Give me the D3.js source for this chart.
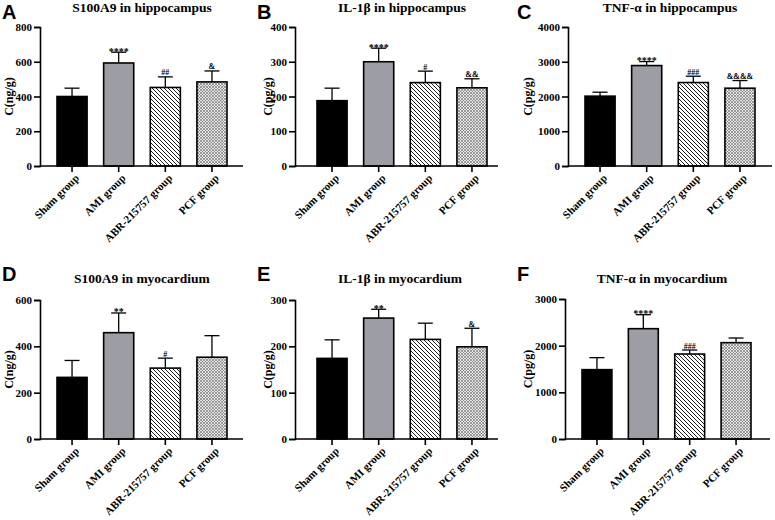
<!DOCTYPE html>
<html>
<head>
<meta charset="UTF-8">
<title>Inflammatory factors</title>
<style>
  body { margin: 0; background: #fff; }
  svg { display: block; }
  .tick text, .ylab, .title, .xlab, .mark { font-family: "Liberation Serif", "Times New Roman", serif; font-weight: bold; fill: #000; }
  .letter { font-family: "Liberation Sans", Arial, sans-serif; font-weight: bold; font-size: 20px; }
</style>
</head>
<body>
<svg width="775" height="520"></svg>
<script src="https://d3js.org/d3.v7.min.js"></script>
<script>
// groups on the x axis
const groups = ["Sham group", "AMI group", "ABR-215757 group", "PCF group"];

// A: S100A9 in hippocampus
const s100HipMean = [400, 593, 452, 484];
const s100HipErr  = [48, 62, 61, 63];
const s100HipMark = ["", "****", "##", "&"];
const s100HipTicks = [0, 200, 400, 600, 800];

// B: IL-1β in hippocampus
const il1HipMean = [188, 300, 240, 225];
const il1HipErr  = [36, 39, 33, 26];
const il1HipMark = ["", "****", "#", "&&"];
const il1HipTicks = [0, 100, 200, 300, 400];

// C: TNF-α in hippocampus
const tnfHipMean = [2010, 2890, 2402, 2239];
const tnfHipErr  = [114, 115, 182, 220];
const tnfHipMark = ["", "****", "###", "&&&&"];
const tnfHipTicks = [0, 1000, 2000, 3000, 4000];

// D: S100A9 in myocardium
const s100MyoMean = [266, 459, 306, 353];
const s100MyoErr  = [73, 85, 43, 93];
const s100MyoMark = ["", "**", "#", ""];
const s100MyoTicks = [0, 200, 400, 600];

// E: IL-1β in myocardium
const il1MyoMean = [174, 261, 215, 199];
const il1MyoErr  = [40, 19, 35, 40];
const il1MyoMark = ["", "**", "", "&"];
const il1MyoTicks = [0, 100, 200, 300];

// F: TNF-α in myocardium
const tnfMyoMean = [1486, 2364, 1821, 2064];
const tnfMyoErr  = [257, 300, 86, 100];
const tnfMyoMark = ["", "****", "###", ""];
const tnfMyoTicks = [0, 1000, 2000, 3000];

const svg = d3.select("svg");

// patterns for the two treated groups
const defs = svg.append("defs");
const hatch = defs.append("pattern").attr("id", "hatch")
  .attr("patternUnits", "userSpaceOnUse").attr("width", 4).attr("height", 4);
hatch.append("rect").attr("width", 4).attr("height", 4).attr("fill", "#fff");
hatch.append("path").attr("d", "M-1,-1L5,5M-1,3L1,5M3,-1L5,1")
  .attr("stroke", "#222").attr("stroke-width", 1);

const dots = defs.append("pattern").attr("id", "dots")
  .attr("patternUnits", "userSpaceOnUse").attr("width", 3).attr("height", 3);
dots.append("rect").attr("width", 3).attr("height", 3).attr("fill", "#e6e6e6");
dots.append("path").attr("d", "M0,0L3,3M3,0L0,3")
  .attr("stroke", "#7a7a7a").attr("stroke-width", 0.7);

const fills = ["#000", "#9d9da5", "url(#hatch)", "url(#dots)"];

// panel layout (positions only; values come from the arrays above)
const panels = [
  { letter: "A", title: "S100A9 in hippocampus", ylab: "C(ng/g)", mean: s100HipMean, err: s100HipErr, mark: s100HipMark, ticks: s100HipTicks,
    ax0: 40, ax1: 243, top: 27, base: 166, b0: 57, b1: 227, lx: 2, ly: 19, tx: 142, ty: 12, yx: 9 },
  { letter: "B", title: "IL-1β in hippocampus", ylab: "C(pg/g)", mean: il1HipMean, err: il1HipErr, mark: il1HipMark, ticks: il1HipTicks,
    ax0: 295, ax1: 498, top: 27, base: 166, b0: 317, b1: 487, lx: 257, ly: 19, tx: 402, ty: 12, yx: 268 },
  { letter: "C", title: "TNF-α in hippocampus", ylab: "C(pg/g)", mean: tnfHipMean, err: tnfHipErr, mark: tnfHipMark, ticks: tnfHipTicks,
    ax0: 568, ax1: 772, top: 27, base: 166, b0: 585, b1: 755, lx: 517, ly: 19, tx: 670, ty: 12, yx: 528 },
  { letter: "D", title: "S100A9 in myocardium", ylab: "C(ng/g)", mean: s100MyoMean, err: s100MyoErr, mark: s100MyoMark, ticks: s100MyoTicks,
    ax0: 40, ax1: 243, top: 300, base: 439, b0: 57, b1: 227, lx: 2, ly: 281, tx: 142, ty: 283, yx: 9 },
  { letter: "E", title: "IL-1β in myocardium", ylab: "C(pg/g)", mean: il1MyoMean, err: il1MyoErr, mark: il1MyoMark, ticks: il1MyoTicks,
    ax0: 295, ax1: 498, top: 300, base: 439, b0: 317, b1: 487, lx: 257, ly: 281, tx: 400, ty: 283, yx: 268 },
  { letter: "F", title: "TNF-α in myocardium", ylab: "C(pg/g)", mean: tnfMyoMean, err: tnfMyoErr, mark: tnfMyoMark, ticks: tnfMyoTicks,
    ax0: 565, ax1: 770, top: 299, base: 439, b0: 582, b1: 751, lx: 517, ly: 281, tx: 662, ty: 283, yx: 528 }
];

panels.forEach(p => {
  const g = svg.append("g");
  const rows = groups.map((name, i) => ({ name, mean: p.mean[i], err: p.err[i], mark: p.mark[i], fill: fills[i] }));

  const y = d3.scaleLinear()
    .domain([0, p.ticks[p.ticks.length - 1]])
    .range([p.base, p.top]);
  const x = d3.scaleBand()
    .domain(groups)
    .range([p.b0, p.b1])
    .paddingInner(0.355)
    .paddingOuter(0);
  const cx = d => x(d) + x.bandwidth() / 2;

  // panel letter and title
  g.append("text").attr("class", "letter").attr("x", p.lx).attr("y", p.ly).text(p.letter);
  g.append("text").attr("class", "title").attr("x", p.tx).attr("y", p.ty)
    .attr("text-anchor", "middle").style("font-size", "13.5px").text(p.title);

  // y axis
  const yAxis = g.append("g")
    .attr("transform", `translate(${p.ax0},0)`)
    .call(d3.axisLeft(y).tickValues(p.ticks).tickFormat(d3.format("d")).tickSize(6).tickPadding(2));
  yAxis.select(".domain").attr("stroke-width", 1.6);
  yAxis.selectAll(".tick line").attr("stroke-width", 1.6);
  yAxis.selectAll(".tick text").style("font-size", "11px");

  g.append("text").attr("class", "ylab")
    .attr("transform", `translate(${p.yx},${(p.top + p.base) / 2}) rotate(-90)`)
    .attr("text-anchor", "middle").attr("dy", "0.35em")
    .style("font-size", "12px").text(p.ylab);

  // error bars (upper only)
  const eb = g.append("g").selectAll("g").data(rows).join("g");
  eb.append("line")
    .attr("x1", d => cx(d.name)).attr("x2", d => cx(d.name))
    .attr("y1", d => y(d.mean)).attr("y2", d => y(d.mean + d.err))
    .attr("stroke", "#000").attr("stroke-width", 1.3);
  eb.append("line")
    .attr("x1", d => cx(d.name) - 7.5).attr("x2", d => cx(d.name) + 7.5)
    .attr("y1", d => y(d.mean + d.err)).attr("y2", d => y(d.mean + d.err))
    .attr("stroke", "#000").attr("stroke-width", 1.3);

  // bars
  g.append("g").selectAll("rect").data(rows).join("rect")
    .attr("x", d => x(d.name))
    .attr("y", d => y(d.mean))
    .attr("width", x.bandwidth())
    .attr("height", d => y(0) - y(d.mean))
    .attr("fill", d => d.fill)
    .attr("stroke", "#000")
    .attr("stroke-width", 1.6);

  // significance marks
  g.append("g").selectAll("text").data(rows.filter(d => d.mark)).join("text")
    .attr("class", "mark")
    .attr("x", d => cx(d.name))
    .attr("y", d => y(d.mean + d.err) + (d.mark[0] === "*" ? 2.5 : -1.5))
    .attr("text-anchor", "middle")
    .style("font-size", d => d.mark[0] === "*" ? "10px" : "8px")
    .text(d => d.mark);

  // x axis baseline and ticks
  g.append("line")
    .attr("x1", p.ax0).attr("x2", p.ax1).attr("y1", p.base).attr("y2", p.base)
    .attr("stroke", "#000").attr("stroke-width", 1.6);
  g.append("g").selectAll("line").data(groups).join("line")
    .attr("x1", cx).attr("x2", cx)
    .attr("y1", p.base).attr("y2", p.base + 6)
    .attr("stroke", "#000").attr("stroke-width", 1.6);
  g.append("g").selectAll("text").data(groups).join("text")
    .attr("class", "xlab")
    .attr("transform", d => `translate(${cx(d) + 5},${p.base + 10}) rotate(-45)`)
    .attr("text-anchor", "end")
    .attr("dy", "0.35em")
    .style("font-size", "11px")
    .text(d => d);
});
</script>
</body>
</html>
